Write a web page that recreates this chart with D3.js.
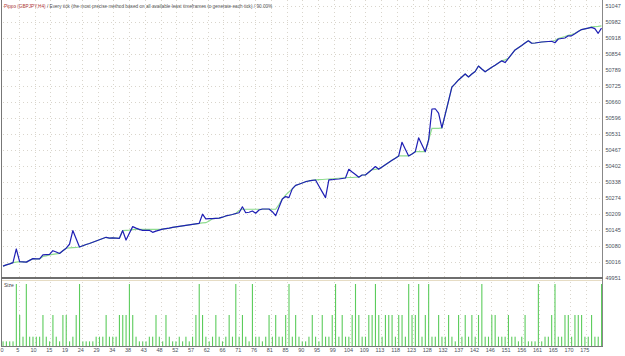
<!DOCTYPE html>
<html>
<head>
<meta charset="utf-8">
<script src="https://cdn.jsdelivr.net/npm/d3@7"></script>
<style>
  body { margin: 0; background: #fff; }
  svg { display: block; }
  text { font-family: "Liberation Sans", Arial, sans-serif; }
</style>
</head>
<body>
<div id="chart"></div>
<script>
// tester graph: balance / equity per trade + lot size panel
const title = "Pippo (GBPJPY,H4)";
const subtitle = " / Every tick (the most precise method based on all available least timeframes to generate each tick) / 90.00%";

const xLabels = [0, 5, 10, 15, 19, 24, 29, 34, 38, 43, 48, 52, 57, 62, 66, 71, 76, 81, 85,
  90, 95, 99, 104, 109, 113, 118, 123, 128, 132, 137, 142, 146, 151, 156, 161, 165, 170, 175];

const yTicks = [49951, 50016, 50080, 50145, 50209, 50274, 50338, 50402, 50467, 50531,
  50596, 50660, 50725, 50789, 50854, 50918, 50982, 51047];

const balance = [
  49999, 50004, 50008, 50013, 50068, 50017, 50016, 50015, 50022, 50029,
  50028, 50028, 50044, 50045, 50046, 50061, 50056, 50050, 50061, 50071,
  50087, 50142, 50109, 50076, 50081, 50086, 50090, 50095, 50100, 50105,
  50110, 50115, 50112, 50113, 50112, 50111, 50142, 50104, 50131, 50158,
  50152, 50147, 50143, 50143, 50143, 50135, 50140, 50144, 50148, 50150,
  50152, 50155, 50157, 50159, 50161, 50163, 50165, 50167, 50169, 50171,
  50208, 50189, 50190, 50190, 50191, 50192, 50196, 50201, 50204, 50207,
  50211, 50214, 50238, 50214, 50216, 50221, 50212, 50225, 50229, 50229,
  50229, 50218, 50202, 50236, 50269, 50279, 50275, 50310, 50324, 50329,
  50334, 50339, 50342, 50344, 50346, 50322, 50298, 50275, 50346, 50347,
  50349, 50350, 50352, 50354, 50389, 50378, 50368, 50357, 50366, 50366,
  50377, 50388, 50400, 50389, 50398, 50407, 50416, 50425, 50434, 50443,
  50498, 50470, 50443, 50451, 50460, 50516, 50488, 50460, 50507, 50632,
  50633, 50615, 50556, 50610, 50665, 50720, 50734, 50749, 50761, 50773,
  50761, 50773, 50783, 50805, 50793, 50782, 50791, 50800, 50808, 50817,
  50826, 50819, 50836, 50853, 50870, 50879, 50888, 50898, 50907, 50897,
  50898, 50900, 50902, 50903, 50904, 50905, 50899, 50914, 50916, 50918,
  50927, 50927, 50935, 50944, 50952, 50955, 50958, 50961, 50956, 50937,
  50958
];

const equity = [
  49999, 50004, 50008, 50013, 50015, 50017, 50016, 50015, 50022, 50029,
  50028, 50028, 50038, 50040, 50044, 50046, 50048, 50050, 50061, 50071,
  50072, 50073, 50074, 50076, 50081, 50086, 50090, 50095, 50100, 50105,
  50110, 50115, 50112, 50113, 50112, 50111, 50142, 50143, 50144, 50146,
  50147, 50147, 50147, 50147, 50147, 50147, 50147, 50147, 50148, 50150,
  50152, 50155, 50157, 50159, 50161, 50163, 50165, 50167, 50169, 50171,
  50173, 50174, 50181, 50190, 50191, 50192, 50196, 50201, 50204, 50207,
  50211, 50223, 50228, 50228, 50228, 50228, 50228, 50228, 50228, 50228,
  50228, 50228, 50228, 50247, 50269, 50285, 50298, 50310, 50324, 50329,
  50334, 50339, 50342, 50344, 50346, 50347, 50348, 50349, 50350, 50351,
  50352, 50353, 50354, 50355, 50356, 50356, 50357, 50357, 50366, 50366,
  50377, 50388, 50389, 50392, 50398, 50407, 50416, 50425, 50434, 50443,
  50443, 50443, 50443, 50451, 50460, 50460, 50460, 50460, 50507, 50554,
  50554, 50554, 50556, 50610, 50665, 50720, 50734, 50749, 50761, 50773,
  50761, 50773, 50783, 50805, 50793, 50782, 50791, 50800, 50808, 50817,
  50826, 50830, 50836, 50853, 50870, 50879, 50888, 50898, 50907, 50897,
  50898, 50900, 50902, 50903, 50904, 50905, 50908, 50916, 50920, 50924,
  50929, 50932, 50937, 50944, 50952, 50955, 50958, 50963, 50964, 50965,
  50967
];

const sizes = [
  0.15, 0.15, 0.15, 0.15, 2, 1, 0.3, 2, 0.3, 0.3,
  0.3, 0.3, 1, 0.3, 0.15, 1, 0.3, 0.15, 1, 1,
  0.15, 0.3, 1, 2, 0.15, 0.15, 0.15, 0.15, 0.3, 0.3,
  0.3, 1, 0.3, 0.3, 0.3, 1, 1, 1, 2, 1,
  0.3, 0.15, 0.15, 0.15, 0.3, 0.3, 1, 0.3, 0.15, 1,
  0.3, 0.15, 0.15, 0.3, 0.15, 0.3, 0.15, 0.3, 1, 2,
  1, 0.3, 0.15, 0.3, 1, 0.3, 0.15, 0.3, 1, 0.3,
  2, 0.3, 1, 0.3, 0.15, 2, 0.3, 0.3, 0.15, 0.3,
  1, 0.3, 1, 0.3, 0.3, 1, 2, 0.3, 1, 0.3,
  0.15, 0.15, 0.3, 1, 0.3, 0.15, 1, 0.3, 0.3, 1,
  2, 0.3, 1, 0.3, 0.3, 1, 2, 1, 0.3, 0.3,
  1, 1, 2, 1, 0.3, 1, 1, 1, 0.3, 1,
  1, 0.3, 2, 1, 1, 2, 0.3, 1, 2, 0.3,
  0.3, 1, 0.3, 0.3, 1, 0.3, 0.15, 1, 0.3, 1,
  0.3, 1, 0.3, 1, 2, 0.3, 0.3, 1, 1, 0.3,
  0.3, 0.3, 1, 0.3, 0.3, 0.15, 0.3, 1, 0.15, 0.15,
  0.15, 2, 0.15, 0.3, 0.3, 1, 2, 0.3, 0.3, 1,
  1, 0.3, 1, 1, 1, 0.3, 0.3, 1, 0.3, 0.3,
  2
];

const width = 625, height = 356;
const box = { left: 3, right: 601.5, top: 6, mid: 278, sizeTop: 284, bottom: 346 };

const svg = d3.select("#chart").append("svg")
  .attr("width", width)
  .attr("height", height);

svg.append("rect").attr("width", width).attr("height", height).attr("fill", "#fff");

const x = d3.scaleLinear().domain([0, balance.length - 1]).range([box.left, box.right]);
const xCell = d3.scaleLinear().domain([0, xLabels.length]).range([box.left, box.right]);
const y = d3.scaleLinear().domain([yTicks[0], yTicks[yTicks.length - 1]]).range([box.mid, box.top]);
const ySize = d3.scaleLinear().domain([0, d3.max(sizes)]).range([box.bottom, box.sizeTop]);

const gridColor = "#d9d5cc";

// vertical dotted grid, both panels
const cells = d3.range(1, xLabels.length);
svg.append("g").selectAll("line.vtop").data(cells).enter().append("line")
  .attr("x1", d => Math.round(xCell(d)) + 0.5).attr("x2", d => Math.round(xCell(d)) + 0.5)
  .attr("y1", 0).attr("y2", box.mid - 1)
  .attr("stroke", gridColor).attr("stroke-dasharray", "1,3");
svg.append("g").selectAll("line.vbot").data(cells).enter().append("line")
  .attr("x1", d => Math.round(xCell(d)) + 0.5).attr("x2", d => Math.round(xCell(d)) + 0.5)
  .attr("y1", 282).attr("y2", box.bottom)
  .attr("stroke", gridColor).attr("stroke-dasharray", "1,3");

// horizontal dotted grid + right labels
const yAxis = svg.append("g")
  .attr("transform", `translate(${box.right + 1},0)`)
  .call(d3.axisRight(y).tickValues(yTicks).tickFormat(d3.format("d")).tickSize(0).tickPadding(3));
yAxis.select(".domain").remove();
yAxis.selectAll("text").attr("font-size", 5.5).attr("fill", "#4a4f5a");
svg.append("g").selectAll("line").data(yTicks.slice(1)).enter().append("line")
  .attr("x1", box.left).attr("x2", box.right)
  .attr("y1", d => Math.round(y(d)) + 0.5).attr("y2", d => Math.round(y(d)) + 0.5)
  .attr("stroke", gridColor).attr("stroke-dasharray", "1,3");

// bottom labels
const xAxis = svg.append("g")
  .attr("transform", `translate(-1.5,${box.bottom + 1})`)
  .call(d3.axisBottom(xCell).tickValues(d3.range(xLabels.length))
    .tickFormat(k => xLabels[k]).tickSize(0).tickPadding(1));
xAxis.select(".domain").remove();
xAxis.selectAll("text").attr("font-size", 5.5).attr("fill", "#4a4f5a");

// size bars
svg.append("g").selectAll("rect").data(sizes).enter().append("rect")
  .attr("x", (d, i) => x(i) - 0.5)
  .attr("y", d => ySize(d))
  .attr("width", 1.1)
  .attr("height", d => box.bottom - ySize(d))
  .attr("fill", "#5ccc5c");

// equity (green) then balance (blue)
const line = d3.line().x((d, i) => x(i)).y(d => y(d));
svg.append("path").datum(equity)
  .attr("d", line).attr("fill", "none")
  .attr("stroke", "#8fdc8f").attr("stroke-width", 1.2);
svg.append("path").datum(balance)
  .attr("d", line).attr("fill", "none")
  .attr("stroke", "#1f1fb4").attr("stroke-width", 1.2)
  .attr("stroke-linejoin", "round");

// frame
const frame = svg.append("g").attr("fill", "none");
frame.append("line").attr("x1", 1.5).attr("x2", 1.5).attr("y1", 0).attr("y2", box.bottom + 0.5)
  .attr("stroke", "#777");
frame.append("line").attr("x1", 602.5).attr("x2", 602.5).attr("y1", 0).attr("y2", box.bottom + 0.5)
  .attr("stroke", "#888");
frame.append("line").attr("x1", 1).attr("x2", 603).attr("y1", box.bottom + 0.5).attr("y2", box.bottom + 0.5)
  .attr("stroke", "#777");
frame.append("line").attr("x1", 1).attr("x2", 603).attr("y1", box.mid).attr("y2", box.mid)
  .attr("stroke", "#6e6e6e").attr("stroke-width", 2);
frame.append("line").attr("x1", 2).attr("x2", 602).attr("y1", 280.5).attr("y2", 280.5)
  .attr("stroke", "#e6dcc4");

// texts
const t = svg.append("text").attr("x", 4).attr("y", 7.5).attr("font-size", 4.7);
t.append("tspan").attr("fill", "#b03a3a").text(title);
t.append("tspan").attr("fill", "#555").text(subtitle);
svg.append("text").attr("x", 4).attr("y", 286.5).attr("font-size", 5).attr("fill", "#444").text("Size");
</script>
</body>
</html>
